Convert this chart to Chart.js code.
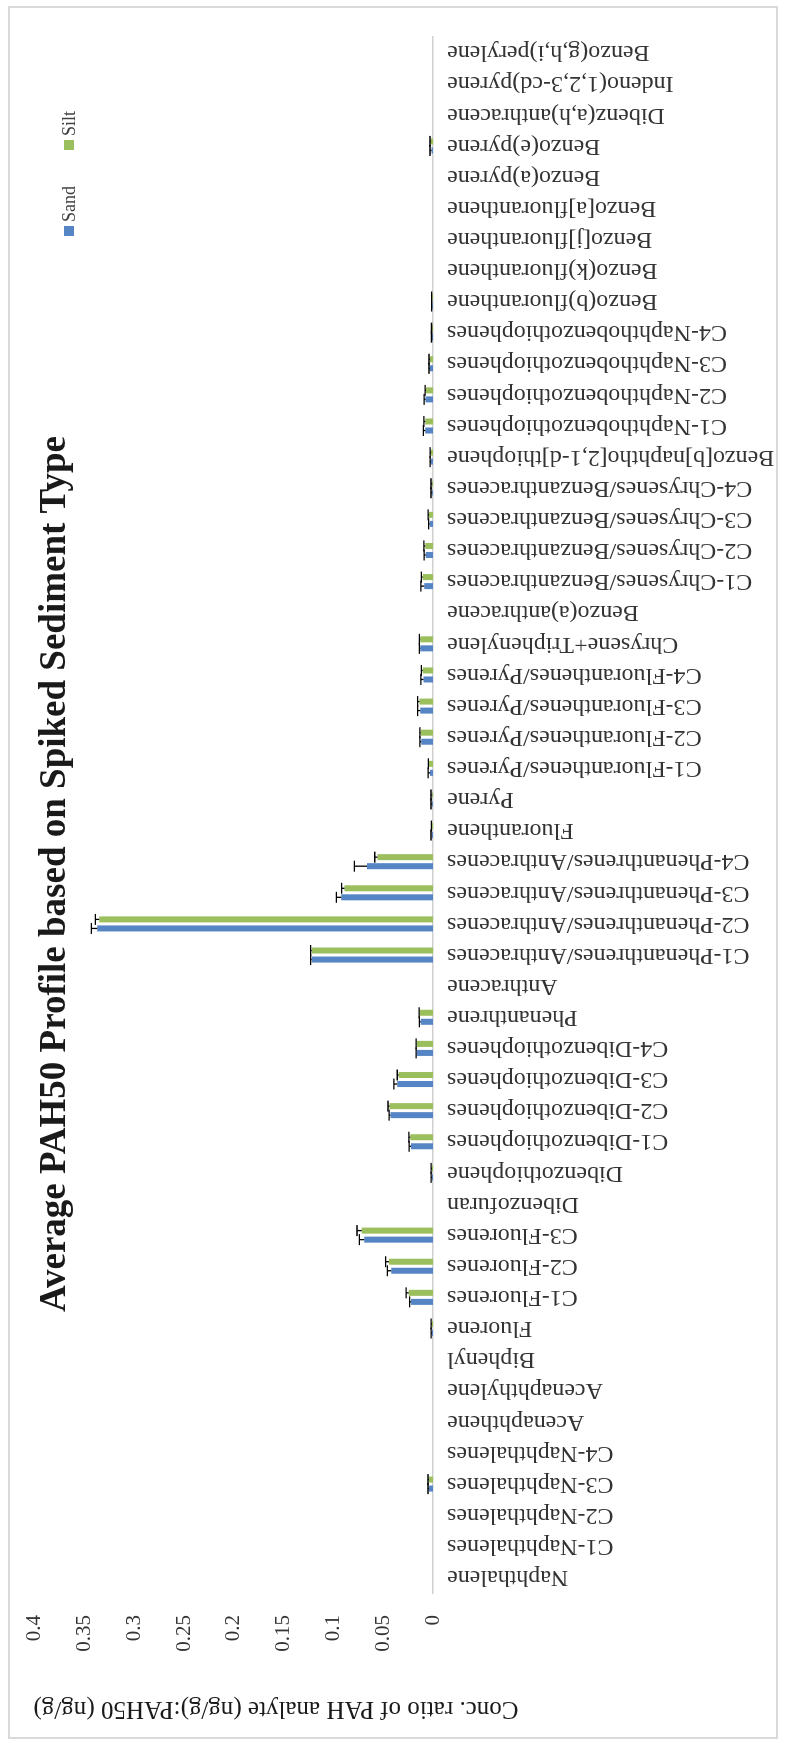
<!DOCTYPE html>
<html>
<head>
<meta charset="utf-8">
<script src="https://cdn.jsdelivr.net/npm/chart.js@4.4.1/dist/chart.umd.min.js"></script>
<style>
html, body { margin: 0; padding: 0; background: #fff; overflow: hidden; width: 785px; height: 1743px; }
/* chart is drawn landscape, then turned a quarter to the left like the scan */
#wrap { position: absolute; left: 0; top: 0; width: 1743px; height: 785px;
        transform-origin: 0 0; transform: translateY(1743px) rotate(-90deg); }
</style>
</head>
<body>
<div id="wrap"><canvas id="pah" width="1743" height="785"></canvas></div>
<script>
var analytes = ["Naphthalene", "C1-Naphthalenes", "C2-Naphthalenes", "C3-Naphthalenes", "C4-Naphthalenes",
  "Acenaphthene", "Acenaphthylene", "Biphenyl", "Fluorene", "C1-Fluorenes", "C2-Fluorenes", "C3-Fluorenes",
  "Dibenzofuran", "Dibenzothiophene", "C1-Dibenzothiophenes", "C2-Dibenzothiophenes", "C3-Dibenzothiophenes",
  "C4-Dibenzothiophenes", "Phenanthrene", "Anthracene", "C1-Phenanthrenes/Anthracenes",
  "C2-Phenanthrenes/Anthracenes", "C3-Phenanthrenes/Anthracenes", "C4-Phenanthrenes/Anthracenes",
  "Fluoranthene", "Pyrene", "C1-Fluoranthenes/Pyrenes", "C2-Fluoranthenes/Pyrenes", "C3-Fluoranthenes/Pyrenes",
  "C4-Fluoranthenes/Pyrenes", "Chrysene+Triphenylene", "Benzo(a)anthracene", "C1-Chrysenes/Benzanthracenes",
  "C2-Chrysenes/Benzanthracenes", "C3-Chrysenes/Benzanthracenes", "C4-Chrysenes/Benzanthracenes",
  "Benzo[b]naphtho[2,1-d]thiophene", "C1-Naphthobenzothiophenes", "C2-Naphthobenzothiophenes",
  "C3-Naphthobenzothiophenes", "C4-Naphthobenzothiophenes", "Benzo(b)fluoranthene", "Benzo(k)fluoranthene",
  "Benzo[j]fluoranthene", "Benzo[a]fluoranthene", "Benzo(a)pyrene", "Benzo(e)pyrene",
  "Dibenz(a,h)anthracene", "Indeno(1,2,3-cd)pyrene", "Benzo(g,h,i)perylene"];

var sand = [0, 0, 0, 0.004, 0, 0, 0, 0, 0.001, 0.022, 0.0419, 0.069,
  0, 0.001, 0.022, 0.0426, 0.036, 0.0162, 0.0122, 0, 0.1218, 0.337, 0.092, 0.0663,
  0.0012, 0.0008, 0.003, 0.0119, 0.0129, 0.0096, 0.0129, 0, 0.0089, 0.0073, 0.0033, 0.0008,
  0.002, 0.0079, 0.0075, 0.003, 0.001, 0.0008, 0, 0, 0, 0, 0.0015, 0, 0, 0];
var silt = [0, 0, 0, 0.004, 0, 0, 0, 0, 0.001, 0.0244, 0.0442, 0.0716,
  0, 0.001, 0.0228, 0.0437, 0.0343, 0.0162, 0.0135, 0, 0.1218, 0.335, 0.0888, 0.0558,
  0.0012, 0.0008, 0.004, 0.0122, 0.0135, 0.0102, 0.0129, 0, 0.0102, 0.0079, 0.004, 0.0008,
  0.002, 0.0079, 0.007, 0.003, 0.001, 0.0008, 0, 0, 0, 0, 0.002, 0, 0, 0];
var sandErr = [0, 0, 0, 0.001, 0, 0, 0, 0, 0.0008, 0.0014, 0.004, 0.005,
  0, 0.0008, 0.002, 0.0015, 0.0033, 0.0008, 0.0015, 0, 0.001, 0.006, 0.005, 0.0126,
  0.0008, 0.0012, 0.0018, 0.0013, 0.0026, 0.0025, 0.0008, 0, 0.0032, 0.0017, 0.001, 0.0012,
  0.0008, 0.0017, 0.0015, 0.001, 0.0005, 0.0005, 0, 0, 0, 0, 0.0015, 0, 0, 0];
var siltErr = [0, 0, 0, 0.001, 0, 0, 0, 0, 0.0008, 0.0026, 0.0033, 0.0047,
  0, 0.0008, 0.0015, 0.0015, 0.0016, 0.0008, 0.0005, 0, 0.001, 0.004, 0.003, 0.0027,
  0.0005, 0.0012, 0.0007, 0.001, 0.002, 0.0015, 0.0008, 0, 0.0015, 0.0012, 0.0008, 0.0012,
  0.0008, 0.0012, 0.001, 0.001, 0.0005, 0.0005, 0, 0, 0, 0, 0.001, 0, 0, 0];

var valueTicks = ["0", "0.05", "0.1", "0.15", "0.2", "0.25", "0.3", "0.35", "0.4"];
var seriesNames = ["Sand", "Silt"];
var seriesColors = ["#5585c5", "#9bbf5c"];

var chartTitle = "Average PAH50 Profile based on Spiked Sediment Type";
var axisTitle = "Conc. ratio of PAH analyte (ng/g):PAH50 (ng/g)";

var serif = "'Liberation Serif', 'Times New Roman', serif";

// error bars (plus side only) drawn through the scales
var errorBars = {
  id: "errorBars",
  afterDatasetsDraw: function(chart) {
    var ctx = chart.ctx;
    var yScale = chart.scales.y;
    var errs = [sandErr, siltErr];
    ctx.save();
    ctx.strokeStyle = "#000";
    ctx.lineWidth = 1.3;
    chart.data.datasets.forEach(function(ds, d) {
      var meta = chart.getDatasetMeta(d);
      meta.data.forEach(function(bar, i) {
        var e = errs[d][i];
        if (!e) return;
        var yEnd = yScale.getPixelForValue(ds.data[i] + e);
        ctx.beginPath();
        ctx.moveTo(bar.x, bar.y);
        ctx.lineTo(bar.x, yEnd);
        ctx.moveTo(bar.x - 5.5, yEnd);
        ctx.lineTo(bar.x + 5.5, yEnd);
        ctx.stroke();
      });
    });
    ctx.restore();
  }
};

// overlay title, legend, axis title and frame (Excel style overlay)
var overlay = {
  id: "overlay",
  afterDraw: function(chart) {
    var ctx = chart.ctx;
    ctx.save();
    ctx.strokeStyle = "#d9d9d9";
    ctx.lineWidth = 2;
    ctx.strokeRect(5, 9, 1731, 768);

    ctx.fillStyle = "#1a1a1a";
    ctx.font = "bold 37px " + serif;
    ctx.textAlign = "center";
    ctx.textBaseline = "alphabetic";
    ctx.fillText(chartTitle, 869, 65);

    ctx.font = "18px " + serif;
    ctx.textAlign = "left";
    var lx = [1507, 1593];
    seriesNames.forEach(function(name, k) {
      ctx.fillStyle = seriesColors[k];
      ctx.fillRect(lx[k], 64, 10, 10);
      ctx.fillStyle = "#404040";
      ctx.fillText(name, lx[k] + 14, 75);
    });

    ctx.translate(34, 276);
    ctx.rotate(-Math.PI / 2);
    ctx.textAlign = "center";
    ctx.textBaseline = "middle";
    ctx.font = "25px " + serif;
    ctx.fillStyle = "#1a1a1a";
    ctx.fillText(axisTitle, 0, 0);
    ctx.restore();
  }
};

new Chart(document.getElementById("pah"), {
  type: "bar",
  data: {
    labels: analytes,
    datasets: [
      { label: seriesNames[0], data: sand, backgroundColor: seriesColors[0],
        categoryPercentage: 0.58, barPercentage: 0.667 },
      { label: seriesNames[1], data: silt, backgroundColor: seriesColors[1],
        categoryPercentage: 0.58, barPercentage: 0.667 }
    ]
  },
  options: {
    responsive: false,
    animation: false,
    devicePixelRatio: 1,
    layout: { padding: { left: 0, right: 37, top: 29, bottom: 0 } },
    plugins: { legend: { display: false }, title: { display: false }, tooltip: { enabled: false } },
    scales: {
      x: {
        grid: { display: false, drawTicks: false },
        border: { display: true, color: "#d0d0d0", width: 1.5 },
        ticks: { autoSkip: false, minRotation: 90, maxRotation: 90, padding: 14,
                 color: "#333", font: { family: serif, size: 24 } },
        afterFit: function(s) { s.height = 352; }
      },
      y: {
        min: 0, max: 0.4,
        grid: { display: false, drawTicks: false },
        border: { display: false },
        ticks: { stepSize: 0.05, padding: 22, color: "#333", font: { family: serif, size: 21 },
                 callback: function(v, i) { return valueTicks[i]; } },
        afterFit: function(s) { s.width = 150; }
      }
    }
  },
  plugins: [errorBars, overlay]
});
</script>
</body>
</html>
